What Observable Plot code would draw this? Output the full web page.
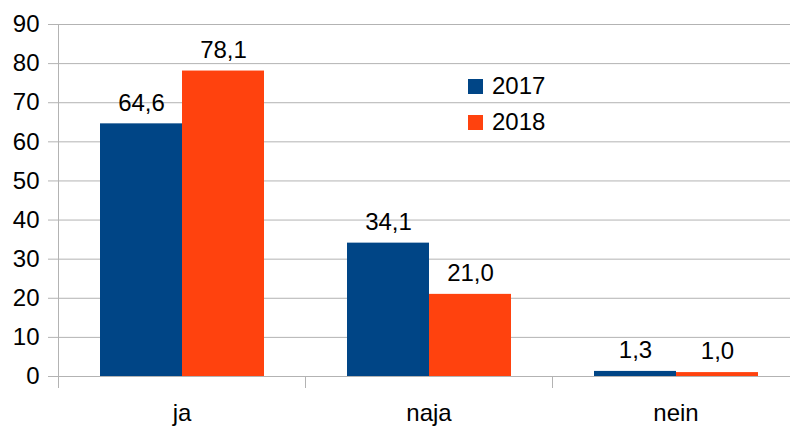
<!DOCTYPE html>
<html><head><meta charset="utf-8">
<script src="https://cdn.jsdelivr.net/npm/d3@7"></script>
<script src="https://cdn.jsdelivr.net/npm/@observablehq/plot@0.6"></script>
<style>
html,body{margin:0;padding:0;background:#fff;overflow:hidden;}
#chart{position:relative;width:790px;height:426px;overflow:hidden;font-family:"Liberation Sans",Arial,sans-serif;}
#chart svg{max-width:none;}
.legend{position:absolute;left:468px;top:74px;font-size:24px;color:#000;line-height:24px;}
.legend .row{display:flex;align-items:center;height:24px;margin-bottom:12px;}
.legend .sw{width:15px;height:15px;margin-right:9px;}
</style></head><body><div id="chart"></div>
<script>
const categories = ["ja", "naja", "nein"];
const years = ["2017", "2018"];
const values2017 = [64.6, 34.1, 1.3];
const values2018 = [78.1, 21.0, 1.0];
const yTicks = [0, 10, 20, 30, 40, 50, 60, 70, 80, 90];
const colors = ["#004586", "#ff420e"];

const data = [];
categories.forEach((c, i) => {
  data.push({category: c, year: years[0], value: values2017[i]});
  data.push({category: c, year: years[1], value: values2018[i]});
});

const fmt = v => d3.format(".1f")(v).replace(".", ",");
const grid = "#b3b3b3";

const plot = Plot.plot({
  width: 799, height: 426,
  marginLeft: 58, marginRight: 0, marginTop: 24, marginBottom: 50,
  style: {fontFamily: "Liberation Sans, Arial, sans-serif", fontSize: "24px", color: "#000", background: "#fff", maxWidth: "none"},
  fx: {domain: categories, padding: 0},
  x: {domain: years, paddingInner: 0, paddingOuter: 0.5, axis: null},
  y: {domain: [0, 90], axis: null},
  color: {domain: years, range: colors},
  facet: {marginTop: 0, marginRight: 0, marginBottom: 0, marginLeft: 0},
  marks: [
    Plot.gridY(yTicks, {stroke: grid, strokeOpacity: 1}),
    Plot.axisY(yTicks, {tickSize: 10, tickPadding: 9, stroke: grid, strokeOpacity: 1, fill: "#000", fontSize: 24, tickFormat: d => String(d), label: null}),
    Plot.axisFx({anchor: "bottom", tickSize: 0, tickPadding: 27, fontSize: 24, fill: "#000", label: null}),
    Plot.barY(data, {fx: "category", x: "year", y: "value", fill: "year"}),
    Plot.text(data, {fx: "category", x: "year", y: "value", text: d => fmt(d.value), dy: -21, fontSize: 24, fill: "#000"})
  ]
});

const chart = document.getElementById("chart");
chart.appendChild(plot);

// axis line and category separators from the library's scales
const fx = plot.scale("fx");
const y = plot.scale("y");
const svg = d3.select(plot);
const y0 = y.apply(0), yTop = y.apply(90);
categories.forEach((c, i) => {
  const xl = Math.round(fx.apply(c)) + 0.5;
  svg.append("line").attr("x1", xl).attr("x2", xl)
    .attr("y1", i === 0 ? yTop : y0).attr("y2", y0 + 12)
    .attr("stroke", grid);
});

// legend
const legend = document.createElement("div");
legend.className = "legend";
years.forEach((yr, i) => {
  const row = document.createElement("div");
  row.className = "row";
  const sw = document.createElement("div");
  sw.className = "sw";
  sw.style.background = colors[i];
  const t = document.createElement("span");
  t.textContent = yr;
  row.appendChild(sw); row.appendChild(t);
  legend.appendChild(row);
});
chart.appendChild(legend);
</script></body></html>
